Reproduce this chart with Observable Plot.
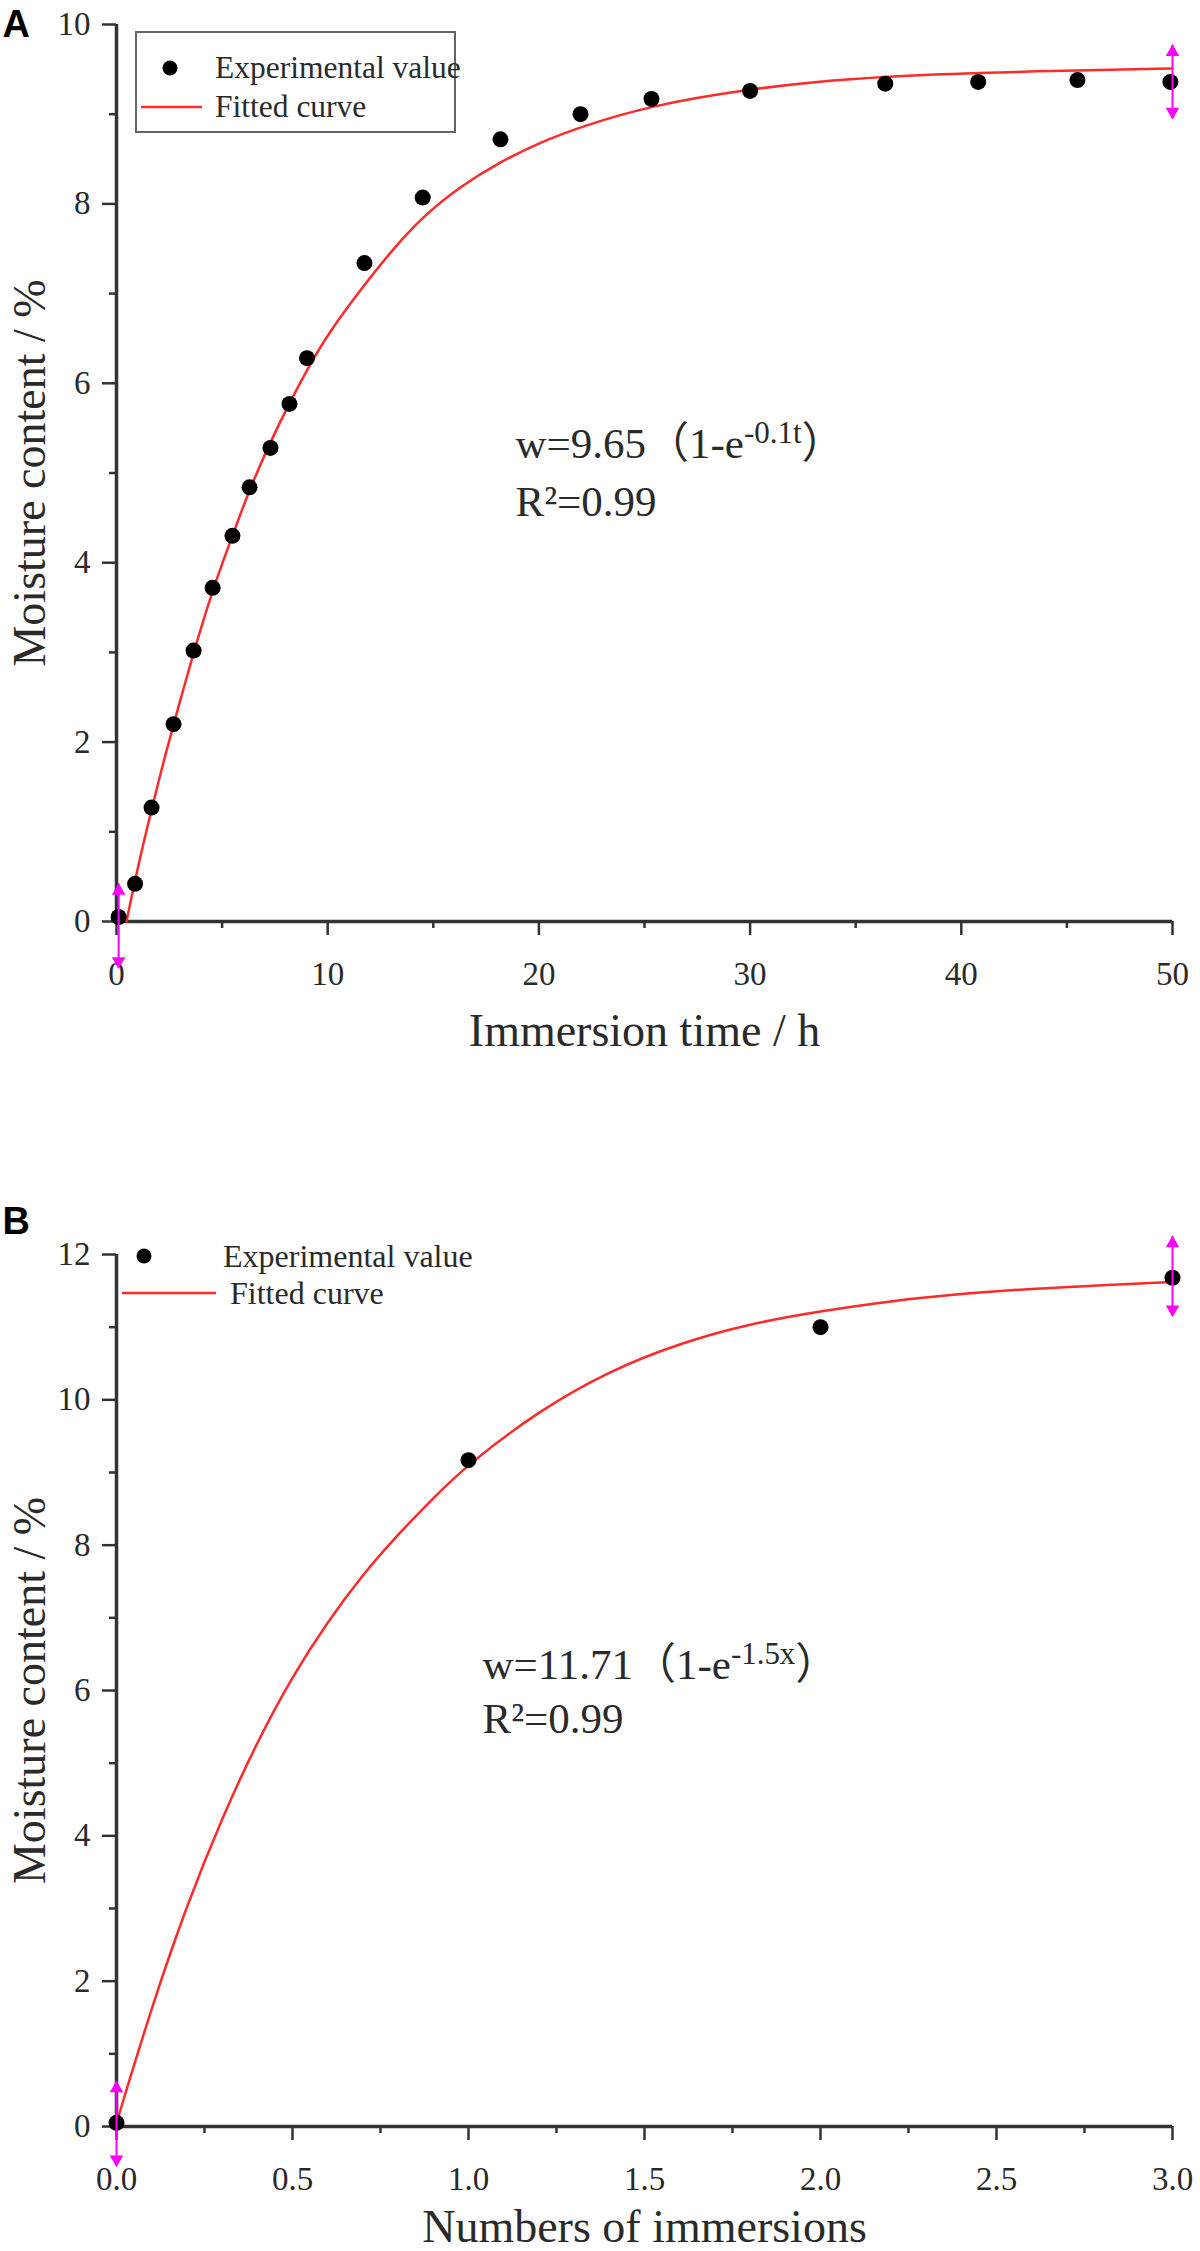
<!DOCTYPE html>
<html><head><meta charset="utf-8">
<script src="https://cdn.jsdelivr.net/npm/d3@7"></script>
<script src="https://cdn.jsdelivr.net/npm/@observablehq/plot@0.6"></script>
<style>
html,body{margin:0;padding:0;background:#fff;}
#wrap{position:relative;width:1200px;height:2251px;overflow:hidden;background:#fff;}
#wrap svg{display:block;}
</style></head><body><div id="wrap"></div>
<script>
// ---------- Panel A data ----------
const timeA  = [0.1, 0.88, 1.66, 2.70, 3.65, 4.55, 5.49, 6.30, 7.29, 8.19, 9.02, 11.74, 14.5, 18.18, 21.97, 25.33, 30.0, 36.4, 40.8, 45.5, 49.9];
const moistA = [0.05, 0.42, 1.27, 2.20, 3.02, 3.72, 4.30, 4.84, 5.28, 5.77, 6.28, 7.34, 8.07, 8.72, 9.00, 9.17, 9.26, 9.34, 9.36, 9.38, 9.36];
const fitTimeA  = [0.47, 1.0, 1.66, 2.32, 3.0, 3.65, 4.55, 5.49, 6.3, 7.29, 8.19, 9.02, 10.0, 11.74, 13.0, 14.5, 16.3, 18.18, 20.0, 21.97, 25.33, 30.0, 33.0, 36.4, 40.8, 45.5, 50.0];
const fitMoistA = [0, 0.6, 1.25, 1.87, 2.45, 3.0, 3.7, 4.3, 4.82, 5.35, 5.78, 6.15, 6.55, 7.1, 7.47, 7.86, 8.2, 8.47, 8.68, 8.86, 9.1, 9.28, 9.36, 9.42, 9.46, 9.49, 9.51];
const errXA  = [0.1, 50];
const errLoA = [-0.52, 8.95];
const errHiA = [0.42, 9.77];
const yMajorA = [0, 2, 4, 6, 8, 10];
const yMinorA = [1, 3, 5, 7, 9];
const xMajorA = [0, 10, 20, 30, 40, 50];
const xMinorA = [5, 15, 25, 35, 45];

// ---------- Panel B data ----------
const countB = [0, 1.0, 2.0, 3.0];
const moistB = [0.05, 9.17, 11.0, 11.68];
const fitCountB = [0, 0.1, 0.2, 0.3, 0.4, 0.5, 0.6, 0.7, 0.8, 0.9, 1.0, 1.2, 1.4, 1.6, 1.8, 2.0, 2.2, 2.4, 2.6, 2.8, 3.0];
const fitMoistB = [0.05, 1.65, 3.05, 4.25, 5.3, 6.2, 6.95, 7.6, 8.15, 8.65, 9.12, 9.85, 10.4, 10.78, 11.05, 11.22, 11.36, 11.46, 11.53, 11.58, 11.62];
const errXB  = [0, 3.0];
const errLoB = [-0.55, 11.15];
const errHiB = [0.62, 12.25];
const yMajorB = [0, 2, 4, 6, 8, 10, 12];
const yMinorB = [1, 3, 5, 7, 9, 11];
const xMajorB = [0, 0.5, 1.0, 1.5, 2.0, 2.5, 3.0];
const xMinorB = [0.25, 0.75, 1.25, 1.75, 2.25, 2.75];

const SERIF = '"Liberation Serif","Times New Roman","Noto Sans CJK SC",serif';
const SANS = '"Liberation Sans",Arial,sans-serif';
const AXIS = "#333";
const RED = "#ff2a2a";
const MAG = "#ff00ff";
const TXT = "#2a2a2a";

function panel(cfg) {
  const pts = cfg.px.map((x, i) => ({x, y: cfg.py[i]}));
  const fit = cfg.fx.map((x, i) => ({x, y: cfg.fy[i]}));
  const err = cfg.ex.map((x, i) => ({x, lo: cfg.elo[i], hi: cfg.ehi[i]}));
  const [x0, x1] = cfg.xDomain, [y0, y1] = cfg.yDomain;
  const svg = Plot.plot({
    width: 1200, height: cfg.height,
    marginTop: cfg.mt, marginBottom: cfg.mb, marginLeft: 116, marginRight: 28,
    x: {domain: cfg.xDomain}, y: {domain: cfg.yDomain},
    style: {fontFamily: SERIF, background: "#fff", overflow: "visible", color: TXT},
    marks: [
      Plot.axisY(cfg.yMinor, {tickSize: 7, tickFormat: () => "", stroke: AXIS, strokeWidth: 2.5, label: null}),
      Plot.axisY(cfg.yMajor, {tickSize: 14, tickPadding: 12, fontSize: 33, stroke: AXIS, strokeWidth: 2.5, fill: TXT, tickFormat: d3.format("d"), label: null}),
      Plot.axisX(cfg.xMinor, {tickSize: 7, tickFormat: () => "", stroke: AXIS, strokeWidth: 2.5, label: null}),
      Plot.axisX(cfg.xMajor, {tickSize: 14, tickPadding: 26, fontSize: 33, stroke: AXIS, strokeWidth: 2.5, fill: TXT, tickFormat: cfg.xFormat, label: null}),
      Plot.ruleX([x0], {y1: y0, y2: y1, stroke: AXIS, strokeWidth: 3.5}),
      Plot.ruleY([y0], {x1: x0, x2: x1, stroke: AXIS, strokeWidth: 3.5}),
      Plot.line(fit, {x: "x", y: "y", stroke: RED, strokeWidth: 2.5, curve: "basis"}),
      Plot.dot(pts, {x: "x", y: "y", r: 8, fill: "#000", stroke: "none"}),
      Plot.ruleX(err, {x: "x", y1: "lo", y2: "hi", stroke: MAG, strokeWidth: 2}),
      Plot.dot(err, {x: "x", y: "hi", symbol: "triangle", r: 5, fill: MAG, stroke: "none", dy: 7}),
      Plot.dot(err, {x: "x", y: "lo", symbol: "triangle", r: 5, fill: MAG, stroke: "none", rotate: 180, dy: -7}),
      Plot.text([cfg.ylabel], {frameAnchor: "left", rotate: -90, dx: -86, fontSize: 46, textAnchor: "middle", lineAnchor: "middle", fill: TXT}),
      Plot.text([cfg.xlabel], {frameAnchor: "bottom", dy: cfg.xlabelDy, fontSize: 46, textAnchor: "middle", lineAnchor: "middle", fill: TXT}),
      Plot.text([cfg.eq], {frameAnchor: "top-left", dx: cfg.eqDx, dy: cfg.eqDy, fontSize: 43, textAnchor: "start", lineAnchor: "middle", fill: TXT}),
      Plot.text(["R²=0.99"], {frameAnchor: "top-left", dx: cfg.eqDx, dy: cfg.r2Dy, fontSize: 43, textAnchor: "start", lineAnchor: "middle", fill: TXT}),
      Plot.text([cfg.tag], {frameAnchor: "top-left", dx: -114, dy: cfg.tagDy, fontSize: 38, fontWeight: "bold", fontFamily: SANS, textAnchor: "start", lineAnchor: "top", fill: "#000"})
    ]
  });
  // superscript in equation
  d3.select(svg).selectAll("text").filter(function(){ return this.textContent === cfg.eq; }).each(function(){
    const t = d3.select(this);
    t.text(null);
    t.append("tspan").text(cfg.eq);
    t.append("tspan").attr("dy", "-0.5em").attr("font-size", "0.72em").text(cfg.sup);
    t.append("tspan").attr("dy", "0.36em").text("）");
  });
  // legend
  const L = cfg.legend;
  const g = d3.select(svg).append("g").attr("font-family", SERIF).attr("font-size", L.fs)
    .attr("fill", TXT).attr("text-anchor", "start");
  if (L.box) g.append("rect").attr("x", L.box[0]).attr("y", L.box[1]).attr("width", L.box[2]).attr("height", L.box[3])
      .attr("fill", "#fff").attr("stroke", "#666").attr("stroke-width", 2);
  g.append("circle").attr("cx", L.dot[0]).attr("cy", L.dot[1]).attr("r", 7.5).attr("fill", "#000");
  g.append("text").attr("x", L.t1[0]).attr("y", L.t1[1]).attr("dy", "0.35em").text("Experimental value");
  g.append("line").attr("x1", L.line[0]).attr("x2", L.line[1]).attr("y1", L.line[2]).attr("y2", L.line[2]).attr("stroke", RED).attr("stroke-width", 2.5);
  g.append("text").attr("x", L.t2[0]).attr("y", L.t2[1]).attr("dy", "0.35em").text("Fitted curve");
  return svg;
}

const wrap = document.getElementById("wrap");
wrap.appendChild(panel({
  height: 1080, mt: 24, mb: 159,
  px: timeA, py: moistA, fx: fitTimeA, fy: fitMoistA, ex: errXA, elo: errLoA, ehi: errHiA,
  xDomain: [0, 50], yDomain: [0, 10], yMajor: yMajorA, yMinor: yMinorA, xMajor: xMajorA, xMinor: xMinorA,
  xFormat: d3.format("d"),
  ylabel: "Moisture content / %", xlabel: "Immersion time / h", xlabelDy: 110,
  eq: "w=9.65（1-e", sup: "-0.1t", eqDx: 399, eqDy: 420, r2Dy: 478,
  tag: "A", tagDy: -14,
  legend: {fs: 31.5, box: [136, 32, 319, 100], dot: [170, 68], t1: [215, 67], line: [141, 202, 107], t2: [215, 106]}
}));
wrap.appendChild(panel({
  height: 1171, mt: 174, mb: 125,
  px: countB, py: moistB, fx: fitCountB, fy: fitMoistB, ex: errXB, elo: errLoB, ehi: errHiB,
  xDomain: [0, 3], yDomain: [0, 12], yMajor: yMajorB, yMinor: yMinorB, xMajor: xMajorB, xMinor: xMinorB,
  xFormat: d3.format(".1f"),
  ylabel: "Moisture content / %", xlabel: "Numbers of immersions", xlabelDy: 101,
  eq: "w=11.71（1-e", sup: "-1.5x", eqDx: 366, eqDy: 411, r2Dy: 465,
  tag: "B", tagDy: -47,
  legend: {fs: 32, box: null, dot: [144, 176], t1: [223, 176], line: [122, 216, 213], t2: [230, 213]}
}));
</script></body></html>
